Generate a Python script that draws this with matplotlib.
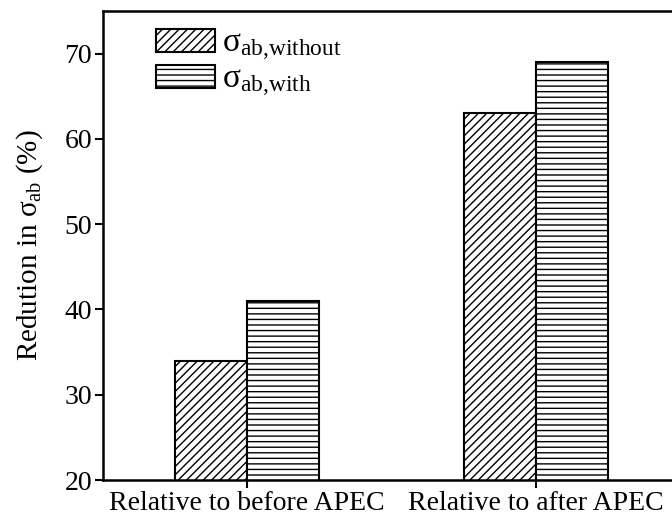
import numpy as np
import matplotlib.pyplot as plt

plt.rcParams['font.family'] = ['Liberation Serif', 'DejaVu Serif']
plt.rcParams['mathtext.fontset'] = 'custom'
plt.rcParams['mathtext.rm'] = 'Liberation Serif'
plt.rcParams['mathtext.it'] = 'Liberation Serif:italic'
plt.rcParams['hatch.linewidth'] = 1.0

categories = ['Relative to before APEC', 'Relative to after APEC']
without_vals = [34, 63]
with_vals = [41, 69]
labels = [r'$\mathrm{\sigma_{ab{,}without}}$', r'$\mathrm{\sigma_{ab{,}with}}$']

fig = plt.figure(figsize=(6.72, 5.21), dpi=100)
ax = fig.add_axes([103 / 672, 41 / 521, 577 / 672, 469 / 521])

x = np.arange(1, len(categories) + 1)
w = 0.25
ax.bar(x - w / 2, without_vals, w, color='white', edgecolor='black',
       linewidth=1.5, hatch='////', label=labels[0])
ax.bar(x + w / 2, with_vals, w, color='white', edgecolor='black',
       linewidth=1.5, hatch='---', label=labels[1])

ax.set_xlim(0.5, 2.5)
ax.set_ylim(20, 75)
ax.set_yticks([20, 30, 40, 50, 60, 70])
ax.set_xticks(x)
ax.set_xticklabels(categories)
ax.tick_params(direction='out', length=6, width=1.5, labelsize=20, pad=2)
for s in ax.spines.values():
    s.set_linewidth(1.8)

ax.set_ylabel(r'Redution in $\mathrm{\sigma_{ab}}$ (%)', fontsize=21, labelpad=14)

ax.legend(loc='upper left', bbox_to_anchor=(0.232, 0.945),
          bbox_transform=fig.transFigure, frameon=False, fontsize=24,
          handlelength=1.77, handleheight=0.72, labelspacing=0.05,
          handletextpad=0.2, borderpad=0, borderaxespad=0)

fig.savefig('out.png', dpi=100)
